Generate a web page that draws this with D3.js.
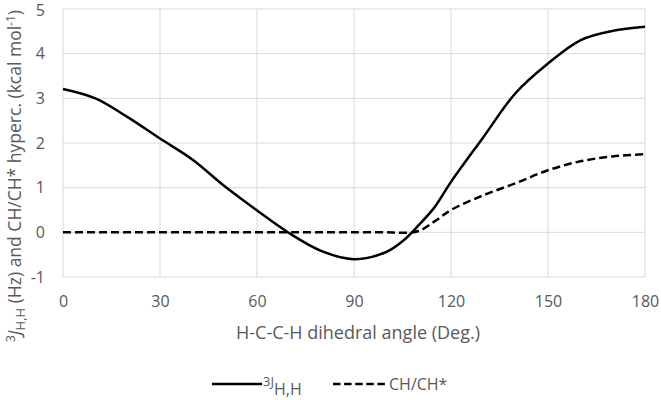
<!DOCTYPE html>
<html>
<head>
<meta charset="utf-8">
<script src="https://cdn.jsdelivr.net/npm/d3@7"></script>
<style>
  body { margin: 0; background: #fff; }
  svg text { font-family: "Open Sans", sans-serif; fill: #595959; }
</style>
</head>
<body>
<div id="chart"></div>
<script>
'use strict';

// dihedral angle (deg) and the two series
const angles = [0, 10, 20, 30, 40, 50, 60, 70, 80, 90, 100, 105, 110, 115, 120, 130, 140, 150, 160, 170, 180];
const jHH = [3.21, 3.0, 2.58, 2.10, 1.63, 1.03, 0.49, -0.02, -0.42, -0.60, -0.44, -0.2, 0.16, 0.57, 1.13, 2.13, 3.12, 3.78, 4.30, 4.51, 4.60];
const hyperc = [0, 0, 0, 0, 0, 0, 0, 0, 0, 0, 0, -0.01, 0.03, 0.25, 0.5, 0.83, 1.10, 1.39, 1.59, 1.70, 1.75];
const xTicks = [0, 30, 60, 90, 120, 150, 180];
const yTicks = [-1, 0, 1, 2, 3, 4, 5];

const width = 661, height = 400;
const margin = {top: 9, right: 16, bottom: 123, left: 63};

const svg = d3.select("#chart").append("svg")
  .attr("width", width)
  .attr("height", height);

const x = d3.scaleLinear().domain([0, 180]).range([margin.left, width - margin.right]);
const y = d3.scaleLinear().domain([-1, 5]).range([height - margin.bottom, margin.top]);

// grid
svg.append("g")
  .selectAll("line.h")
  .data(yTicks)
  .join("line")
  .attr("x1", x(0)).attr("x2", x(180))
  .attr("y1", d => y(d)).attr("y2", d => y(d))
  .attr("stroke", "#d9d9d9").attr("stroke-width", 1);

svg.append("g")
  .selectAll("line.v")
  .data(xTicks)
  .join("line")
  .attr("y1", y(-1)).attr("y2", y(5))
  .attr("x1", d => x(d)).attr("x2", d => x(d))
  .attr("stroke", "#d9d9d9").attr("stroke-width", 1);

// axes (labels only, lines are the grid)
const xAxis = svg.append("g")
  .attr("transform", `translate(0, ${y(-1)})`)
  .call(d3.axisBottom(x).tickValues(xTicks).tickFormat(d => String(d)).tickSize(0).tickPadding(19));
xAxis.select(".domain").remove();
xAxis.selectAll("text").style("font-size", "16px").attr("fill", "#595959");

const yAxis = svg.append("g")
  .attr("transform", `translate(${x(0)}, 0)`)
  .call(d3.axisLeft(y).tickValues(yTicks).tickFormat(d => String(d)).tickSize(0).tickPadding(18));
yAxis.select(".domain").remove();
yAxis.selectAll("text").style("font-size", "16px").attr("fill", "#595959");
yAxis.selectAll(".tick").filter(d => d === 5).select("text").attr("dy", "0.38em");

// lines
const line = d3.line().curve(d3.curveCatmullRom.alpha(0.5));

svg.append("path")
  .attr("d", line(angles.map((a, i) => [x(a), y(jHH[i])])))
  .attr("fill", "none").attr("stroke", "#000").attr("stroke-width", 2.5);

svg.append("path")
  .attr("d", line(angles.map((a, i) => [x(a), y(hyperc[i])])))
  .attr("fill", "none").attr("stroke", "#000").attr("stroke-width", 2.5)
  .attr("stroke-dasharray", "8,4");

// axis titles
svg.append("text")
  .attr("x", 358)
  .attr("y", 339)
  .attr("text-anchor", "middle")
  .style("font-size", "18px")
  .text("H-C-C-H dihedral angle (Deg.)");

const yTitle = svg.append("text")
  .attr("transform", "translate(21, 176) rotate(-90)")
  .attr("text-anchor", "middle")
  .style("font-size", "17.5px");
yTitle.append("tspan").attr("font-size", "12px").attr("dy", "-6").text("3");
yTitle.append("tspan").attr("dy", "6").style("font-style", "italic").text("J");
yTitle.append("tspan").attr("font-size", "13px").attr("dy", "4").text("H,H");
yTitle.append("tspan").attr("dy", "-4").text(" (Hz) and CH/CH* hyperc. (kcal mol");
yTitle.append("tspan").attr("font-size", "12px").attr("dy", "-6").text("-1");
yTitle.append("tspan").attr("dy", "6").text(")");

// legend
const legend = svg.append("g").attr("transform", "translate(0, 384)");
legend.append("line")
  .attr("x1", 212).attr("x2", 262).attr("y1", 0).attr("y2", 0)
  .attr("stroke", "#000").attr("stroke-width", 2.5);
const l1 = legend.append("text").attr("x", 263).attr("y", 2).style("font-size", "13px");
l1.append("tspan").text("3J");
l1.append("tspan").attr("font-size", "16px").attr("dy", "9").text("H,H");

legend.append("line")
  .attr("x1", 333).attr("x2", 386).attr("y1", 0).attr("y2", 0)
  .attr("stroke", "#000").attr("stroke-width", 2.5)
  .attr("stroke-dasharray", "7.5,3.6");
legend.append("text").attr("x", 389).attr("y", 6).style("font-size", "16px").text("CH/CH*");
</script>
</body>
</html>
